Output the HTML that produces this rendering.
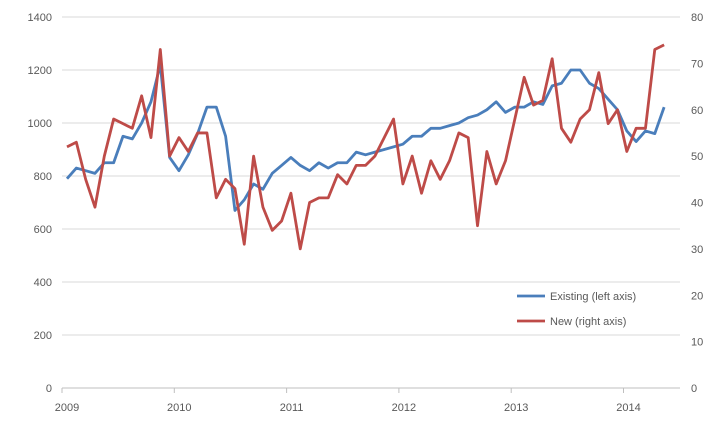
<!DOCTYPE html>
<html><head><meta charset="utf-8"><style>
body{margin:0;background:#fff;font-family:"Liberation Sans",sans-serif}
text{font-family:"Liberation Sans",sans-serif;font-size:11px;fill:#595959}
</style></head><body>
<svg id="c" width="721" height="434"></svg>
<script>
const years=["2009","2010","2011","2012","2013","2014"];
const leftTicks=[0,200,400,600,800,1000,1200,1400];
const rightTicks=[0,10,20,30,40,50,60,70,80];
const existing=[790,830,820,810,850,850,950,940,1000,1080,1220,870,820,880,960,1060,1060,950,670,710,770,750,810,840,870,840,820,850,830,850,850,890,880,890,900,910,920,950,950,980,980,990,1000,1020,1030,1050,1080,1040,1060,1060,1080,1070,1140,1150,1200,1200,1150,1130,1090,1050,970,930,970,960,1060];
const newHomes=[52,53,45,39,50,58,57,56,63,54,73,50,54,51,55,55,41,45,43,31,50,39,34,36,42,30,40,41,41,46,44,48,48,50,54,58,44,50,42,49,45,49,55,54,35,51,44,49,58,67,61,62,71,56,53,58,60,68,57,60,51,56,56,73,74];
const svg=document.getElementById('c');const NS='http://www.w3.org/2000/svg';
const X0=62,X1=680,Y0=388,Y1=17,FX=67,DX=9.33;
const xm=i=>FX+i*DX;
const yl=v=>Y0-(v/1400)*(Y0-Y1);
const yr=v=>Y0-(v/80)*(Y0-Y1);
function mk(t,a,p){const e=document.createElementNS(NS,t);for(const k in a)e.setAttribute(k,a[k]);(p||svg).appendChild(e);return e;}
leftTicks.forEach(v=>{
 const g=mk('line',{x1:X0,x2:X1,y1:yl(v),y2:yl(v),stroke:v===0?'#bfbfbf':'#d9d9d9','stroke-width':1});
 
 
 const t=mk('text',{x:52,y:yl(v)+4,'text-anchor':'end'});t.textContent=v;
 
 
});
rightTicks.forEach(v=>{
 const t=mk('text',{x:691,y:yr(v)+4,'text-anchor':'start'});t.textContent=v;
 
 
});
years.forEach((y,i)=>{
 const x=X0+i*112.3;
 const tk=mk('line',{x1:x,x2:x,y1:Y0,y2:Y0+5,stroke:'#bfbfbf'});
 
 
 const t=mk('text',{x:x+5,y:411,'text-anchor':'middle'});t.textContent=y;
 
 
});
function line(arr,f,col,name){
 const p=mk('polyline',{points:arr.map((v,i)=>xm(i)+','+f(v)).join(' '),fill:'none',stroke:col,'stroke-width':2.8,'stroke-linejoin':'round'});
 
 
}
line(existing,yl,'#4a7ebb','existing-line');
line(newHomes,yr,'#be4b48','new-line');
[['Existing (left axis)','#4a7ebb',296],['New (right axis)','#be4b48',321]].forEach(([l,c,y])=>{
 const ln=mk('line',{x1:517,x2:545,y1:y,y2:y,stroke:c,'stroke-width':2.8});
 
 
 const t=mk('text',{x:550,y:y+4});t.textContent=l;
 
 
});
</script>
</body></html>
